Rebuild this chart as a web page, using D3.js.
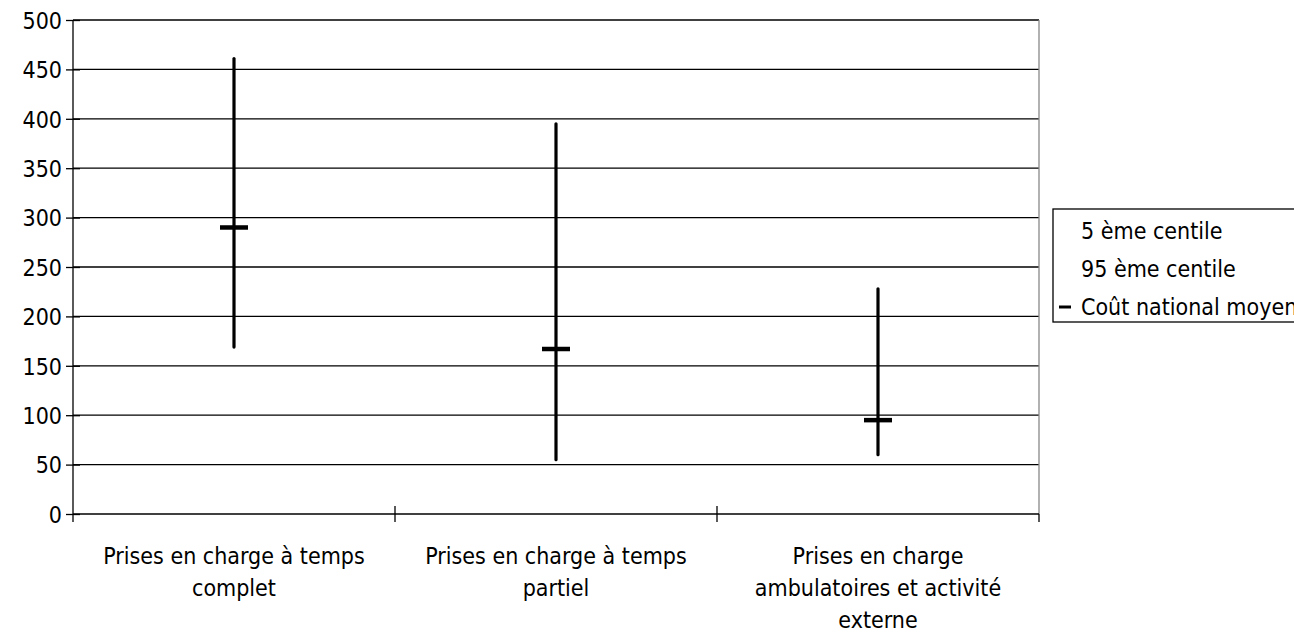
<!DOCTYPE html>
<html>
<head>
<meta charset="utf-8">
<script src="https://cdn.jsdelivr.net/npm/d3@7"></script>
<style>
  html, body { margin: 0; padding: 0; background: #fff; }
  svg text { font-family: "DejaVu Sans Condensed", "DejaVu Sans", sans-serif; fill: #000; }
</style>
</head>
<body>
<svg id="chart" width="1294" height="634"></svg>
<script>
var categories = ['complet', 'partiel', 'ambulatoire'];
var categoryLabels = [
  ['Prises en charge à temps', 'complet'],
  ['Prises en charge à temps', 'partiel'],
  ['Prises en charge', 'ambulatoires et activité', 'externe']
];
var centile5 = [169, 55, 60];
var centile95 = [461, 395, 228];
var coutMoyen = [290, 167, 95];
var yTicks = [0, 50, 100, 150, 200, 250, 300, 350, 400, 450, 500];
var legendLabels = ['5 ème centile', '95 ème centile', 'Coût national moyen'];

var plotLeft = 73, plotRight = 1039, plotTop = 20, plotBottom = 514;
var fontSize = '23px';
var svg = d3.select('#chart');

var x = d3.scaleBand().domain(categories).range([plotLeft, plotRight]).padding(0);
var y = d3.scaleLinear().domain([0, 500]).range([plotBottom, plotTop]);

// gridlines
svg.append('g')
  .selectAll('line')
  .data(yTicks.slice(1))
  .enter().append('line')
  .attr('x1', plotLeft).attr('x2', plotRight)
  .attr('y1', function(d) { return y(d); })
  .attr('y2', function(d) { return y(d); })
  .style('stroke', '#000')
  .style('stroke-width', 1.3);

// right border of plot area
svg.append('line')
  .attr('x1', plotRight).attr('x2', plotRight)
  .attr('y1', plotTop).attr('y2', plotBottom)
  .style('stroke', '#888').style('stroke-width', 1.3);

// y axis
var yAxis = d3.axisLeft(y).tickValues(yTicks).tickSize(0).tickPadding(11);
var yg = svg.append('g').attr('transform', 'translate(' + plotLeft + ',0)').call(yAxis);
yg.select('.domain').remove();
yg.selectAll('text').style('font-size', fontSize).style('font-family', null).attr('dy', '0.36em');
yg.attr('font-family', null).attr('font-size', null);
yg.selectAll('.tick').append('line')
  .attr('x1', -7).attr('x2', 7)
  .style('stroke', '#000').style('stroke-width', 1.3);
svg.append('line')
  .attr('x1', plotLeft).attr('x2', plotLeft).attr('y1', plotTop).attr('y2', plotBottom + 8)
  .style('stroke', '#000').style('stroke-width', 1.3);

// x axis
svg.append('line')
  .attr('x1', plotLeft).attr('x2', plotRight).attr('y1', plotBottom).attr('y2', plotBottom)
  .style('stroke', '#000').style('stroke-width', 1.3);
svg.append('g')
  .selectAll('line')
  .data(categories.slice(1).concat(['end']))
  .enter().append('line')
  .attr('x1', function(d) { return d === 'end' ? plotRight : x(d); })
  .attr('x2', function(d) { return d === 'end' ? plotRight : x(d); })
  .attr('y1', function(d) { return d === 'end' ? plotBottom : plotBottom - 8; })
  .attr('y2', plotBottom + 8)
  .style('stroke', '#000').style('stroke-width', 1.3);

svg.append('g')
  .selectAll('text')
  .data(categories)
  .enter().append('text')
  .attr('text-anchor', 'middle')
  .style('font-size', fontSize)
  .each(function(d, i) {
    var t = d3.select(this);
    categoryLabels[i].forEach(function(line, j) {
      t.append('tspan')
        .attr('x', x(d) + x.bandwidth() / 2)
        .attr('y', 564 + j * 32)
        .text(line);
    });
  });

// high-low lines
svg.append('g')
  .selectAll('line')
  .data(categories)
  .enter().append('line')
  .attr('x1', function(d) { return x(d) + x.bandwidth() / 2; })
  .attr('x2', function(d) { return x(d) + x.bandwidth() / 2; })
  .attr('y1', function(d, i) { return y(centile95[i]); })
  .attr('y2', function(d, i) { return y(centile5[i]); })
  .style('stroke', '#000')
  .style('stroke-width', 3.2)
  .style('stroke-linecap', 'round');

// mean markers
svg.append('g')
  .selectAll('line')
  .data(categories)
  .enter().append('line')
  .attr('x1', function(d) { return x(d) + x.bandwidth() / 2 - 14; })
  .attr('x2', function(d) { return x(d) + x.bandwidth() / 2 + 14; })
  .attr('y1', function(d, i) { return y(coutMoyen[i]); })
  .attr('y2', function(d, i) { return y(coutMoyen[i]); })
  .style('stroke', '#000')
  .style('stroke-width', 4.5);

// legend
var legend = svg.append('g').attr('transform', 'translate(1053,209)');
legend.append('rect')
  .attr('x', 0).attr('y', 0).attr('width', 260).attr('height', 113)
  .style('fill', '#fff').style('stroke', '#000').style('stroke-width', 1.3);
legend.selectAll('text')
  .data(legendLabels)
  .enter().append('text')
  .attr('x', 28)
  .attr('y', function(d, i) { return 22 + i * 38; })
  .attr('dy', '0.36em')
  .style('font-size', fontSize)
  .text(function(d) { return d; });
legend.append('line')
  .attr('x1', 6).attr('x2', 18).attr('y1', 98).attr('y2', 98)
  .style('stroke', '#000').style('stroke-width', 3);
</script>
</body>
</html>
